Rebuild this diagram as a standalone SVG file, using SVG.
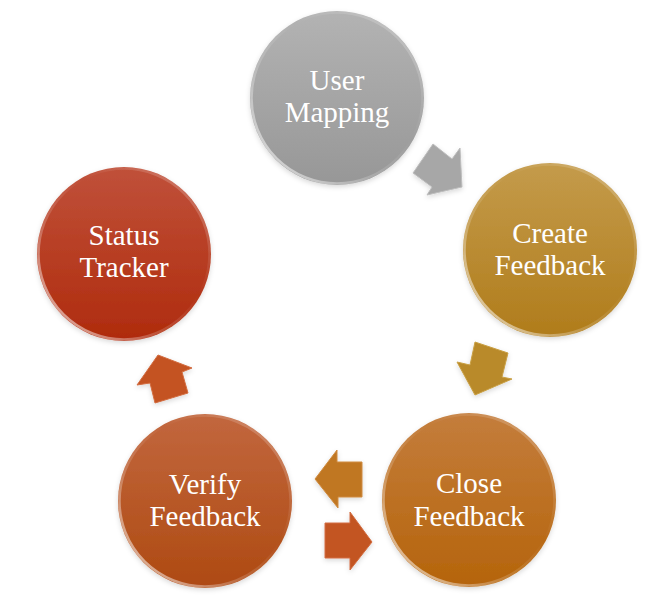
<svg xmlns="http://www.w3.org/2000/svg" width="672" height="596" viewBox="0 0 672 596">
  <defs>
    <!-- body fills: lighter top, deeper bottom -->
    <linearGradient id="gGray" x1="0" y1="0" x2="0" y2="1">
      <stop offset="0" stop-color="#b3b3b3"/>
      <stop offset="1" stop-color="#979797"/>
    </linearGradient>
    <linearGradient id="gGold" x1="0" y1="0" x2="0" y2="1">
      <stop offset="0" stop-color="#c49b4b"/>
      <stop offset="1" stop-color="#b07c1b"/>
    </linearGradient>
    <linearGradient id="gAmber" x1="0" y1="0" x2="0" y2="1">
      <stop offset="0" stop-color="#c47d3c"/>
      <stop offset="1" stop-color="#b5640b"/>
    </linearGradient>
    <linearGradient id="gRust" x1="0" y1="0" x2="0" y2="1">
      <stop offset="0" stop-color="#c2673e"/>
      <stop offset="1" stop-color="#ae4a12"/>
    </linearGradient>
    <linearGradient id="gRed" x1="0" y1="0" x2="0" y2="1">
      <stop offset="0" stop-color="#c0513a"/>
      <stop offset="1" stop-color="#af2b0d"/>
    </linearGradient>
    <!-- bevel rim highlight, brightest along the lower left -->
    <linearGradient id="rim" x1="0" y1="1" x2="1" y2="0">
      <stop offset="0" stop-color="#ffffff" stop-opacity="0.75"/>
      <stop offset="0.35" stop-color="#ffffff" stop-opacity="0.2"/>
      <stop offset="0.6" stop-color="#ffffff" stop-opacity="0"/>
      <stop offset="1" stop-color="#ffffff" stop-opacity="0.3"/>
    </linearGradient>
    <filter id="soft" x="-10%" y="-10%" width="120%" height="125%">
      <feGaussianBlur in="SourceAlpha" stdDeviation="2.5"/>
      <feOffset dy="2" result="b"/>
      <feFlood flood-color="#000" flood-opacity="0.15"/>
      <feComposite in2="b" operator="in"/>
      <feMerge><feMergeNode/><feMergeNode in="SourceGraphic"/></feMerge>
    </filter>
  </defs>
  <style>
    .body { filter: url(#soft); }
    .rim { fill: none; stroke: url(#rim); stroke-width: 2.5; }
    .label { font-family: "Liberation Serif", "Times New Roman", serif; font-size: 29px; fill: #ffffff; text-anchor: middle; }
    .arrow { stroke-width: 1; stroke-linejoin: miter; filter: url(#soft); }
  </style>

  <rect width="672" height="596" fill="#ffffff"/>

  <g id="connectors">
    <polygon class="arrow" points="433,144 452,159 460,148 462,187 427,195 432,187 413,173" fill="#a7a7a7" stroke="#bdbdbd"/>
    <polygon class="arrow" points="475,342 508,353 502,377 512,379 475,395 457,362 470,365" fill="#b98a2a" stroke="#c9a045"/>
    <polygon class="arrow" points="315,479 337,450 337,462 362,462 362,497 338,497 338,508" fill="#c07722" stroke="#cf8b3f"/>
    <polygon class="arrow" points="325,523 350,523 350,512 372,542 350,570 350,558 325,558" fill="#c35420" stroke="#d26c40"/>
    <polygon class="arrow" points="158,355 192,368 182,372 188,393 155,403 150,383 137,385" fill="#c45220" stroke="#d26c40"/>
  </g>

  <g id="user-mapping">
    <circle class="body" cx="337" cy="98" r="87" fill="url(#gGray)"/>
    <circle class="rim" cx="337" cy="98" r="85.5"/>
    <text class="label" x="337" y="90">User</text>
    <text class="label" x="337" y="122">Mapping</text>
  </g>

  <g id="create-feedback">
    <circle class="body" cx="550" cy="250" r="87" fill="url(#gGold)"/>
    <circle class="rim" cx="550" cy="250" r="85.5"/>
    <text class="label" x="550" y="243">Create</text>
    <text class="label" x="550" y="275">Feedback</text>
  </g>

  <g id="close-feedback">
    <circle class="body" cx="469" cy="500" r="87" fill="url(#gAmber)"/>
    <circle class="rim" cx="469" cy="500" r="85.5"/>
    <text class="label" x="469" y="493">Close</text>
    <text class="label" x="469" y="526">Feedback</text>
  </g>

  <g id="verify-feedback">
    <circle class="body" cx="205" cy="501" r="87" fill="url(#gRust)"/>
    <circle class="rim" cx="205" cy="501" r="85.5"/>
    <text class="label" x="205" y="494">Verify</text>
    <text class="label" x="205" y="526">Feedback</text>
  </g>

  <g id="status-tracker">
    <circle class="body" cx="124" cy="254" r="87" fill="url(#gRed)"/>
    <circle class="rim" cx="124" cy="254" r="85.5"/>
    <text class="label" x="124" y="245">Status</text>
    <text class="label" x="124" y="277">Tracker</text>
  </g>
</svg>
